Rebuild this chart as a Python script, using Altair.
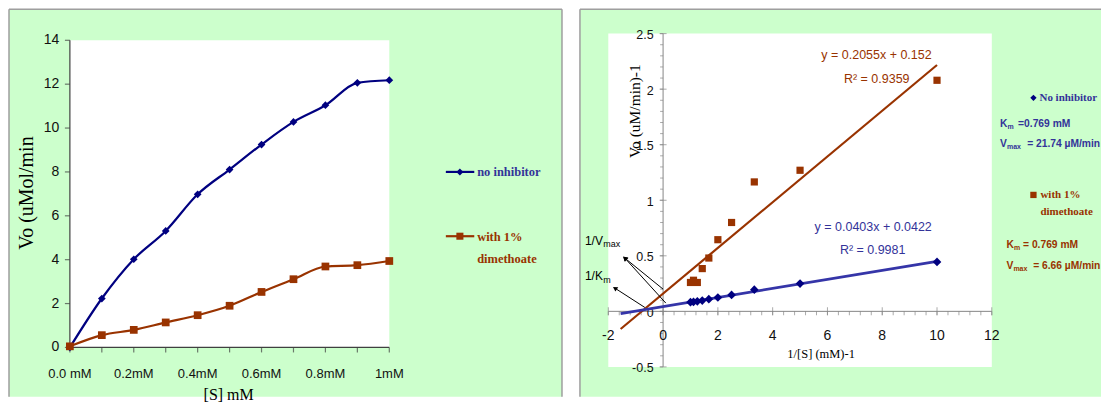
import math
import altair as alt
import pandas as pd

# ------------------------------------------------------------------
# Values
# ------------------------------------------------------------------
series_names = ["no inhibitor", "with 1% dimethoate"]

# Left panel: Michaelis-Menten plot
substrate_mM = [0.0, 0.1, 0.2, 0.3, 0.4, 0.5, 0.6, 0.7, 0.8, 0.9, 1.0]
vo_no_inhibitor = [0.0, 2.23, 4.02, 5.31, 6.98, 8.11, 9.25, 10.28, 11.04, 12.06, 12.18]
vo_dimethoate = [0.05, 0.56, 0.80, 1.14, 1.47, 1.90, 2.53, 3.11, 3.69, 3.75, 3.94]

# Right panel: Lineweaver-Burk plot
inv_substrate = [10.0, 5.0, 3.33, 2.5, 2.0, 1.67, 1.43, 1.25, 1.11, 1.0]
inv_vo_no_inhibitor = [0.445, 0.25, 0.195, 0.148, 0.125, 0.11, 0.097, 0.09, 0.085, 0.083]
inv_vo_dimethoate = [2.08, 1.27, 1.165, 0.80, 0.645, 0.48, 0.385, 0.26, 0.28, 0.26]
trend_extent = [-1.55, 10.0]

# Ticks and tick labels
left_x_ticks = [0.0, 0.1, 0.2, 0.3, 0.4, 0.5, 0.6, 0.7, 0.8, 0.9, 1.0]
left_x_labels = ["0.0 mM", "", "0.2mM", "", "0.4mM", "", "0.6mM", "", "0.8mM", "", "1mM"]
left_y_ticks = [0, 2, 4, 6, 8, 10, 12, 14]
left_y_labels = ["0", "2", "4", "6", "8", "10", "12", "14"]
right_x_major = [-2, 0, 2, 4, 6, 8, 10, 12]
right_x_labels = ["-2", "0", "2", "4", "6", "8", "10", "12"]
right_y_major = [-0.5, 0, 0.5, 1, 1.5, 2, 2.5]
right_y_labels = ["-0.5", "0", "0.5", "1", "1.5", "2", "2.5"]
right_x_minor_step = 0.4
right_y_minor_step = 0.1

# Texts
left_x_title = "[S] mM"
left_y_title = "Vo (uMol/min"
right_x_title = "1/[S] (mM)-1"
right_y_title = "Vo (uM/min)-1"
equation_texts = ["y = 0.2055x + 0.152", "R\u00b2 = 0.9359", "y = 0.0403x + 0.0422", "R\u00b2 = 0.9981"]
left_legend_lines = ["no inhibitor", "with 1%", "dimethoate"]
right_legend_lines = ["No inhibitor", "with 1%", "dimethoate"]

# ------------------------------------------------------------------
# Styles
# ------------------------------------------------------------------
NAVY = "#000080"
BROWN = "#993300"
BLUE_TXT = "#333399"
BLUE_LINE = "#3535A8"
GRAY = "#868686"
AXL = "#404040"
PANEL = "#CCFFCC"
BORDER = "#9E9E9E"
SANS = "Liberation Sans"
SERIF = "Liberation Serif"

ONE = pd.DataFrame({"k": [0]})


def X(field, sc):
    return alt.X(field, scale=sc, axis=None)


def Y(field, sc):
    return alt.Y(field, scale=sc, axis=None)


def text_layer(df, xs, ys, font, weight, align, **kw):
    return alt.Chart(df).mark_text(font=font, fontWeight=weight, align=align,
                                   baseline="middle", **kw).encode(
        x=X("x:Q", xs), y=Y("y:Q", ys), text="text:N",
        color=alt.Color("color:N", scale=None), size=alt.Size("size:Q", scale=None))


def rules(df, xs, ys, color, width):
    return alt.Chart(df).mark_rule(color=color, strokeWidth=width).encode(
        x=X("x:Q", xs), x2="x2:Q", y=Y("y:Q", ys), y2="y2:Q")


def ticks(xvals, yvals, xs, ys, orient, size, offset, color, width):
    off = {"yOffset": offset} if orient == "vertical" else {"xOffset": offset}
    return alt.Chart(pd.DataFrame({"x": xvals, "y": yvals})).mark_tick(
        orient=orient, size=size, thickness=width, color=color, **off).encode(
        x=X("x:Q", xs), y=Y("y:Q", ys))


def frame(w, h, sides):
    out = []
    if "top" in sides:
        out.append(alt.Chart(ONE).mark_rule(color=BORDER, strokeWidth=1.5).encode(
            x=alt.value(0), x2=alt.value(w), y=alt.value(0)))
    if "left" in sides:
        out.append(alt.Chart(ONE).mark_rule(color=BORDER, strokeWidth=1.5).encode(
            x=alt.value(0), y=alt.value(0), y2=alt.value(h)))
    if "right" in sides:
        out.append(alt.Chart(ONE).mark_rule(color=BORDER, strokeWidth=1.5).encode(
            x=alt.value(w), y=alt.value(0), y2=alt.value(h)))
    return out


# ------------------------------------------------------------------
# Left panel
# ------------------------------------------------------------------
LW, LH = 554, 388
L_xdom, L_ydom = [0.0, 1.0], [0.0, 14.0]
xsL = alt.Scale(domain=L_xdom, range=[61, 381], nice=False, zero=False)
ysL = alt.Scale(domain=L_ydom, range=[338.7, 31], nice=False, zero=False)

bgL = alt.Chart(pd.DataFrame({"x": [L_xdom[0]], "x2": [L_xdom[1]], "y": [L_ydom[0]],
                              "y2": [L_ydom[1]]})).mark_rect(color="white").encode(
    x=X("x:Q", xsL), x2="x2:Q", y=Y("y:Q", ysL), y2="y2:Q")

axis_lines_L = rules(pd.DataFrame({"x": [L_xdom[0], 0.0], "x2": [L_xdom[1], 0.0],
                                   "y": [0.0, L_ydom[0]], "y2": [0.0, L_ydom[1]]}), xsL, ysL, AXL, 1.2)
xticks_L = ticks(left_x_ticks, [0.0] * len(left_x_ticks), xsL, ysL, "vertical", 5, 2.5, AXL, 1.2)
yticks_L = ticks([0.0] * len(left_y_ticks), left_y_ticks, xsL, ysL, "horizontal", 5, -2.5, AXL, 1.2)
xlab_L = text_layer(pd.DataFrame({"x": left_x_ticks, "y": [0.0] * len(left_x_ticks), "text": left_x_labels,
                                  "color": ["#111111"] * len(left_x_ticks), "size": [13] * len(left_x_ticks)}),
                    xsL, ysL, SANS, "normal", "center", dy=26.6)
ylab_L = text_layer(pd.DataFrame({"x": [0.0] * len(left_y_ticks), "y": left_y_ticks, "text": left_y_labels,
                                  "color": ["#111111"] * len(left_y_ticks), "size": [14] * len(left_y_ticks)}),
                    xsL, ysL, SANS, "normal", "right", dx=-10.7)
xtitle_L = text_layer(pd.DataFrame({"x": [0.497], "y": [-2.15], "text": [left_x_title], "color": ["black"],
                                    "size": [16]}), xsL, ysL, SERIF, "normal", "center")
ytitle_L = text_layer(pd.DataFrame({"x": [-0.134], "y": [7.04], "text": [left_y_title], "color": ["black"],
                                    "size": [20]}), xsL, ysL, SERIF, "normal", "center", angle=270)

dfL = pd.DataFrame({
    "S": substrate_mM + substrate_mM,
    "v": vo_no_inhibitor + vo_dimethoate,
    "series": [series_names[0]] * len(substrate_mM) + [series_names[1]] * len(substrate_mM),
})
color_L = alt.Color("series:N", scale=alt.Scale(domain=series_names, range=[NAVY, BROWN]), legend=None)
shape_sc = alt.Scale(domain=series_names, range=["diamond", "square"])

linesL = alt.Chart(dfL).mark_line(strokeWidth=2.2, interpolate="monotone").encode(
    x=X("S:Q", xsL), y=Y("v:Q", ysL), color=color_L, detail="series:N")
ptsL = alt.Chart(dfL).mark_point(filled=True, opacity=1, size=60).encode(
    x=X("S:Q", xsL), y=Y("v:Q", ysL), color=color_L,
    shape=alt.Shape("series:N", scale=shape_sc, legend=None))

legL = pd.DataFrame({"series": series_names, "x": [1.177, 1.177], "x2": [1.266, 1.266],
                     "xm": [1.221, 1.221], "y": [8.0, 5.07]})
legL_rule = alt.Chart(legL).mark_rule(strokeWidth=2.2).encode(
    x=X("x:Q", xsL), x2="x2:Q", y=Y("y:Q", ysL), color=color_L)
legL_pts = alt.Chart(legL).mark_point(filled=True, opacity=1, size=50).encode(
    x=X("xm:Q", xsL), y=Y("y:Q", ysL), color=color_L,
    shape=alt.Shape("series:N", scale=shape_sc, legend=None))
legL_txt = text_layer(pd.DataFrame({
    "text": left_legend_lines, "x": [1.275, 1.275, 1.275], "y": [8.0, 5.05, 4.035],
    "color": [BLUE_TXT, BROWN, BROWN], "size": [12.5, 12.5, 12.5]}), xsL, ysL, SERIF, "bold", "left")

left = alt.layer(bgL, axis_lines_L, xticks_L, yticks_L, xlab_L, ylab_L, xtitle_L, ytitle_L,
                 linesL, ptsL, legL_rule, legL_pts, legL_txt,
                 *frame(LW, LH, ["top", "left", "right"])).properties(width=LW, height=LH)

# ------------------------------------------------------------------
# Right panel
# ------------------------------------------------------------------
RW, RH = 522, 388
R_xdom, R_ydom = [-2.0, 12.0], [-0.5, 2.5]
R_xrange, R_yrange = [28.4, 412.6], [358.2, 24.3]
kx = (R_xrange[1] - R_xrange[0]) / (R_xdom[1] - R_xdom[0])
ky = (R_yrange[0] - R_yrange[1]) / (R_ydom[1] - R_ydom[0])
xsR = alt.Scale(domain=R_xdom, range=R_xrange, nice=False, zero=False)
ysR = alt.Scale(domain=R_ydom, range=R_yrange, nice=False, zero=False)

right_x_minor = [round(R_xdom[0] + right_x_minor_step * i, 1)
                 for i in range(int(round((R_xdom[1] - R_xdom[0]) / right_x_minor_step)) + 1)]
right_y_minor = [round(R_ydom[0] + right_y_minor_step * i, 1)
                 for i in range(int(round((R_ydom[1] - R_ydom[0]) / right_y_minor_step)) + 1)]

bgR = alt.Chart(pd.DataFrame({"x": [R_xdom[0]], "x2": [R_xdom[1]], "y": [R_ydom[0]],
                              "y2": [R_ydom[1]]})).mark_rect(color="white").encode(
    x=X("x:Q", xsR), x2="x2:Q", y=Y("y:Q", ysR), y2="y2:Q")

axis_lines_R = rules(pd.DataFrame({"x": [R_xdom[0], 0.0], "x2": [R_xdom[1], 0.0],
                                   "y": [0.0, R_ydom[0]], "y2": [0.0, R_ydom[1]]}), xsR, ysR, GRAY, 1)
xminor_R = ticks(right_x_minor, [0.0] * len(right_x_minor), xsR, ysR, "vertical", 4, 2, GRAY, 1)
xmajor_R = ticks(right_x_major, [0.0] * len(right_x_major), xsR, ysR, "vertical", 8, 0, GRAY, 1)
yminor_R = ticks([0.0] * len(right_y_minor), right_y_minor, xsR, ysR, "horizontal", 3, -1.5, GRAY, 1)
ymajor_R = ticks([0.0] * len(right_y_major), right_y_major, xsR, ysR, "horizontal", 7, 0, GRAY, 1)
xlab_R = text_layer(pd.DataFrame({"x": right_x_major, "y": [0.0] * len(right_x_major), "text": right_x_labels,
                                  "color": ["#111111"] * len(right_x_major), "size": [14] * len(right_x_major)}),
                    xsR, ysR, SANS, "normal", "center", dy=24.4)
ylab_R = text_layer(pd.DataFrame({"x": [0.0] * len(right_y_major), "y": right_y_major, "text": right_y_labels,
                                  "color": ["#111111"] * len(right_y_major), "size": [12.5] * len(right_y_major)}),
                    xsR, ysR, SANS, "normal", "right", dx=-9.5, dy=1.5)
xtitle_R = text_layer(pd.DataFrame({"x": [5.769], "y": [-0.384], "text": [right_x_title], "color": ["black"],
                                    "size": [12.5]}), xsR, ysR, SERIF, "normal", "center")
ytitle_R = text_layer(pd.DataFrame({"x": [-1.031], "y": [1.802], "text": [right_y_title], "color": ["black"],
                                    "size": [15.5]}), xsR, ysR, SERIF, "normal", "center", angle=270)

dfR = pd.DataFrame({
    "inv_s": inv_substrate + inv_substrate,
    "inv_v": inv_vo_no_inhibitor + inv_vo_dimethoate,
    "series": [series_names[0]] * len(inv_substrate) + [series_names[1]] * len(inv_substrate),
})


def trend(name, color, width):
    return alt.Chart(dfR).transform_filter(alt.datum.series == name).transform_regression(
        "inv_s", "inv_v", extent=trend_extent).mark_line(color=color, strokeWidth=width).encode(
        x=X("inv_s:Q", xsR), y=Y("inv_v:Q", ysR))


trend_b = trend(series_names[1], BROWN, 2.2)
trend_a = trend(series_names[0], BLUE_LINE, 2.8)

color_R = alt.Color("series:N", scale=alt.Scale(domain=series_names, range=["#1A1A80", BROWN]), legend=None)
size_R = alt.Size("series:N", scale=alt.Scale(domain=series_names, range=[75, 52]), legend=None)
ptsR = alt.Chart(dfR).mark_point(filled=True, opacity=1).encode(
    x=X("inv_s:Q", xsR), y=Y("inv_v:Q", ysR), color=color_R, size=size_R,
    shape=alt.Shape("series:N", scale=shape_sc, legend=None))

eq_txt = text_layer(pd.DataFrame({
    "text": equation_texts, "x": [7.79, 7.80, 7.67, 7.65], "y": [2.305, 2.093, 0.760, 0.551],
    "color": [BROWN, BROWN, BLUE_TXT, BLUE_TXT], "size": [12.5] * 4}), xsR, ysR, SANS, "normal", "center")

# arrows pointing at the intercepts
arrows = pd.DataFrame({"x": [0.0, 0.099, -0.666], "y": [0.200, 0.0746, 0.035],
                       "x2": [-1.395, -1.395, -1.759], "y2": [0.479, 0.479, 0.209]})
arrows["angle"] = [
    math.degrees(math.atan2((r.x2 - r.x) * kx, (r.y2 - r.y) * ky)) % 360 for r in arrows.itertuples()]
arrow_lines = rules(arrows, xsR, ysR, "black", 1)
arrow_heads = alt.Chart(arrows).mark_point(shape="triangle-up", filled=True, opacity=1, size=28,
                                           color="black").encode(
    x=X("x2:Q", xsR), y=Y("y2:Q", ysR), angle=alt.Angle("angle:Q", scale=None))
arrow_txt = text_layer(pd.DataFrame({
    "text": ["1/V", "max", "1/K", "m"], "x": [-2.853, -2.186, -2.853, -2.186],
    "y": [0.634, 0.603, 0.314, 0.279], "color": ["black"] * 4, "size": [12, 9, 12, 9]}),
    xsR, ysR, SANS, "normal", "left")

# legend and kinetic constants to the right of the plot area
legR_pts = alt.Chart(pd.DataFrame({"series": series_names, "x": [13.52, 13.52], "y": [1.922, 1.048]})).mark_point(
    filled=True, opacity=1, size=40).encode(
    x=X("x:Q", xsR), y=Y("y:Q", ysR), color=color_R,
    shape=alt.Shape("series:N", scale=shape_sc, legend=None))
legR_names = text_layer(pd.DataFrame({
    "text": right_legend_lines, "x": [13.74, 13.776, 13.776], "y": [1.922, 1.048, 0.898],
    "color": [BLUE_TXT, BROWN, BROWN], "size": [11, 11, 11]}), xsR, ysR, SERIF, "bold", "left")
legR_consts = text_layer(pd.DataFrame({
    "text": ["K", "m", "=0.769 mM", "V", "max", "= 21.74 \u00b5M/min",
             "K", "m", "= 0.769 mM", "V", "max", "= 6.66 \u00b5M/min"],
    "x": [12.295, 12.572, 12.96, 12.295, 12.554, 13.290,
          12.536, 12.806, 13.14, 12.536, 12.788, 13.509],
    "y": [1.688, 1.658, 1.688, 1.509, 1.476, 1.509,
          0.598, 0.568, 0.598, 0.41, 0.377, 0.41],
    "color": [BLUE_TXT] * 6 + [BROWN] * 6,
    "size": [10.3, 7, 10.3, 10.3, 7, 10.3] * 2}), xsR, ysR, SANS, "bold", "left")

right = alt.layer(bgR, axis_lines_R, xminor_R, xmajor_R, yminor_R, ymajor_R, xlab_R, ylab_R,
                  xtitle_R, ytitle_R, trend_b, trend_a, ptsR, eq_txt, arrow_lines, arrow_heads,
                  arrow_txt, legR_pts, legR_names, legR_consts,
                  *frame(RW, RH, ["top", "left"])).properties(width=RW, height=RH)

chart = alt.hconcat(left, right, spacing=16).properties(
    padding=0, background="white").configure_view(fill=PANEL, stroke=None)

chart.save("out.html", embed_options={"renderer": "svg", "actions": False})
